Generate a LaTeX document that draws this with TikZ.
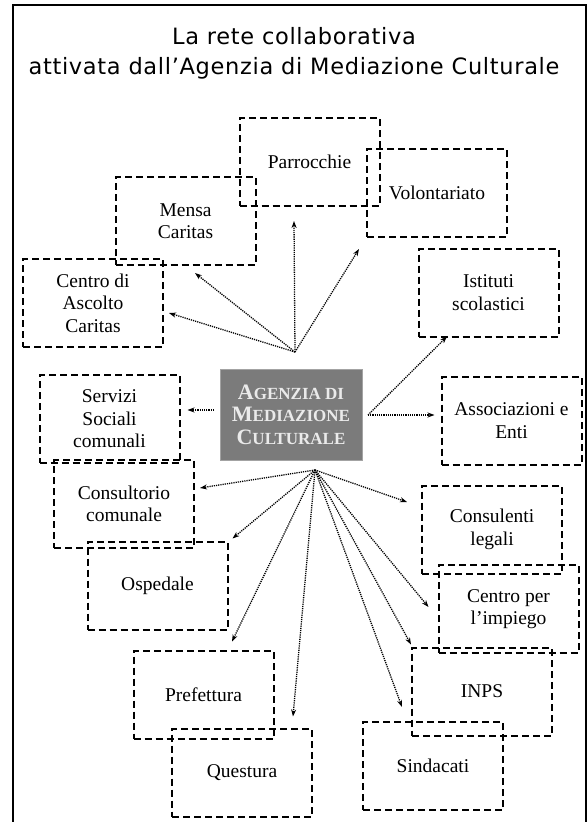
\documentclass[tikz,border=0pt]{standalone}
\usepackage{fontspec}
\setmainfont{Liberation Serif}
\newfontfamily\titlefont[LetterSpace=3]{DejaVu Sans}
\usetikzlibrary{arrows.meta,calc}
\definecolor{agfill}{HTML}{7B7B7B}
\definecolor{agtext}{HTML}{EAEAEA}
\newcommand\sccap[2]{{\fontsize{22}{22.5}\selectfont #1}{\fontsize{17}{22.5}\selectfont #2}}
\tikzset{
  ente/.style={draw, line width=2pt, dash pattern=on 7pt off 4pt,
    minimum width=140pt, minimum height=88pt, inner sep=0pt, align=center,
    font=\fontsize{19.5}{22.5}\selectfont},
  agenzia/.style={fill=agfill, draw=agfill!70!white, line width=1pt, text=agtext,
    minimum width=142pt, minimum height=91pt, inner sep=0pt, align=center,
    font=\bfseries\fontsize{17}{22.5}\selectfont},
  link/.style={line width=1.3pt, dash pattern=on 1.2pt off 1pt,
    -{Stealth[length=7pt,width=5pt]}}
}
\begin{document}
\begin{tikzpicture}[x=1pt,y=-1pt]
  \useasboundingbox (0,0) rectangle (588,822);
  \clip (0,0) rectangle (588,822);
  \draw[line width=2pt] (13,5) rectangle (586,840);
  \node[align=center, font=\titlefont\fontsize{22.5}{30}\selectfont] (titolo) at (294,53)
    {La rete collaborativa\\attivata dall’Agenzia di Mediazione Culturale};

  \node[agenzia] (agenzia) at (291,414.5)
    {\sccap{A}{GENZIA DI}\\\sccap{M}{EDIAZIONE}\\\sccap{C}{ULTURALE}};

  \node[ente] (parrocchie) at (309.5,162) {Parrocchie};
  \node[ente] (mensa) at (185.5,221) {Mensa\\Caritas};
  \node[ente] (ascolto) at (93,303) {Centro di\\Ascolto\\Caritas};
  \node[ente] (volontariato) at (437,193) {Volontariato};
  \node[ente] (istituti) at (488.5,292.5) {Istituti\\scolastici};
  \node[ente] (associazioni) at (511.5,420.5) {Associazioni e\\Enti};
  \node[ente] (servizi) at (109.5,419) {Servizi\\Sociali\\comunali};
  \node[ente] (consultorio) at (124,504) {Consultorio\\comunale};
  \node[ente] (ospedale) at (157.5,585.5) {Ospedale};
  \node[ente] (prefettura) at (203.5,694.5) {Prefettura};
  \node[ente] (questura) at (242,772.5) {Questura};
  \node[ente] (consulenti) at (492,529.5) {Consulenti\\legali};
  \node[ente] (impiego) at (508.5,609) {Centro per\\l’impiego};
  \node[ente] (inps) at (482,691.5) {INPS};
  \node[ente] (sindacati) at (433,766) {Sindacati};

  \coordinate (hubN) at (295,352);
  \coordinate (hubE) at (368,415);
  \coordinate (hubW) at (214,410);
  \coordinate (hubS) at (315,470);

  \foreach \h/\t/\dx/\dy in {hubN/ascolto.east/5/10, hubN/mensa.south/9.5/7,
      hubN/parrocchie.south/-15.5/14, hubN/volontariato.south west/-7/11,
      hubE/istituti.south/-41.5/-1, hubE/associazioni.west/-6/-5.5,
      hubW/servizi.east/7/-9,
      hubS/consultorio.east/5/-16, hubS/ospedale.north east/4/-2,
      hubS/prefettura.north/28.5/-8, hubS/questura.north/51/-11,
      hubS/consulenti.west/-14/-27.5, hubS/impiego.west/-9/-2,
      hubS/inps.north west/0/-2, hubS/sindacati.north/-31/-14}{
    \draw[link] (\h) -- ($(\t)+(\dx,\dy)$);
  }
\end{tikzpicture}
\end{document}
